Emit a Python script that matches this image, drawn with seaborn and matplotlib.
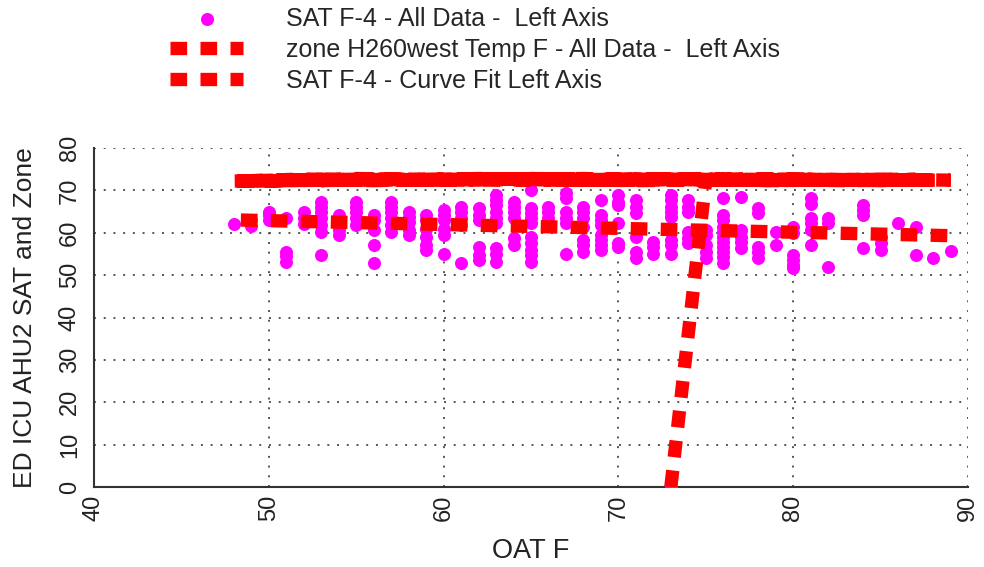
import matplotlib
matplotlib.use("Agg")
import matplotlib.pyplot as plt
from matplotlib.ticker import MultipleLocator
import numpy as np
import pandas as pd
import seaborn as sns

# ---- supply air temperature readings, grouped by outside air temperature ----
sat_columns = {
    48: [62.0],
    49: [61.5, 63.0],
    50: [65.0, 64.2, 63.0],
    51: [63.5, 55.5, 54.5, 53.0],
    52: [65.0, 63.4, 62.0],
    53: [67.3, 66.1, 65.0, 63.4, 61.8, 60.2, 54.7],
    54: [64.2, 63.0, 60.6, 59.5],
    55: [67.3, 66.1, 65.0, 63.4, 61.8],
    56: [64.2, 63.0, 60.6, 57.1, 52.8],
    57: [67.3, 66.1, 65.0, 63.4, 61.8, 60.2],
    58: [65.0, 63.8, 62.6, 60.6, 59.5],
    59: [64.2, 63.0, 61.0, 59.1, 57.1, 55.9],
    60: [65.4, 64.2, 63.0, 61.0, 59.5, 55.1],
    61: [66.1, 65.0, 63.4, 61.8, 52.8],
    62: [65.8, 64.2, 63.0, 56.7, 54.7, 53.5],
    63: [68.9, 67.7, 66.5, 65.0, 63.4, 62.2, 56.3, 55.1, 53.2],
    64: [67.3, 66.1, 65.0, 63.4, 58.7, 57.1],
    65: [70.1, 65.8, 64.6, 63.4, 62.2, 59.1, 57.5, 55.9, 54.7, 53.2],
    66: [66.1, 65.0, 63.4, 62.2],
    67: [69.3, 68.1, 65.0, 63.4, 62.2, 55.1],
    68: [66.1, 65.0, 63.4, 61.4, 58.3, 57.1, 55.5],
    69: [67.7, 64.2, 63.0, 61.8, 59.5, 58.3, 57.1, 55.9],
    70: [68.9, 67.3, 66.5, 62.2, 57.5, 56.7],
    71: [67.7, 66.1, 64.6, 59.1, 55.5, 54.0],
    72: [57.9, 56.7, 55.1],
    73: [68.9, 67.7, 66.1, 65.0, 63.8, 58.3, 57.1, 55.1, 0.0],
    74: [67.7, 66.1, 65.0, 60.2, 58.7, 57.5],
    75: [60.6, 59.5, 57.1, 55.5, 54.0],
    76: [68.1, 64.2, 63.0, 61.4, 60.2, 59.1, 57.9, 56.7, 55.5, 54.3, 52.8],
    77: [68.5, 60.6, 59.1, 57.9, 56.3],
    78: [65.8, 64.6, 56.7, 55.5, 54.0],
    79: [60.2, 57.1],
    80: [61.4, 59.9, 54.7, 53.5, 52.4, 51.6],
    81: [68.1, 66.9, 63.4, 62.2, 60.6, 57.1],
    82: [63.4, 62.2, 52.0],
    84: [66.5, 65.4, 64.2, 56.3],
    85: [59.1, 57.5, 55.9],
    86: [62.2],
    87: [61.4, 54.7],
    88: [54.0],
    89: [55.7],
}
sat_oat = [oat for oat, vals in sat_columns.items() for _ in vals]
sat_temp = [v for vals in sat_columns.values() for v in vals]

# ---- zone temperature, in logging order (first record is a dropout at 0) ----
zone_oat = [73, 75, 78, 82, 85, 87, 84, 80, 76, 71, 66, 62, 58, 55, 53, 57,
            61, 66, 70, 74, 79, 83, 86, 89, 86, 81, 77, 72, 68, 64, 60, 56,
            52, 50, 48, 51, 55, 59, 63, 67, 71, 75, 80, 84, 87, 85, 82, 78,
            74, 69, 65, 61, 57, 54, 50, 49, 53, 58, 62, 67, 72, 76, 81, 85,
            88, 84, 79, 75, 70, 65, 60, 56, 51, 48, 52, 56, 61, 65, 69, 73,
            77, 80, 83, 86, 83, 79, 74, 69, 64, 59, 54, 50]
zone_temp = [0.0, 72.4, 72.6, 72.5, 72.3, 72.6, 72.4, 72.7, 72.5, 72.3, 72.6, 72.8, 72.4, 72.6, 72.3, 72.7,
             72.5, 72.8, 72.4, 72.6, 72.5, 72.3, 72.4, 72.4, 72.6, 72.5, 72.7, 72.4, 72.8, 72.5, 72.6, 72.3,
             72.7, 72.4, 72.2, 72.3, 72.8, 72.5, 72.7, 72.4, 72.6, 72.8, 72.4, 72.6, 72.5, 72.3, 72.6, 72.4,
             72.7, 72.5, 72.8, 72.4, 72.6, 72.5, 72.2, 72.3, 72.6, 72.4, 72.8, 72.5, 72.7, 72.4, 72.6, 72.5,
             72.4, 72.6, 72.3, 72.5, 72.7, 72.4, 72.6, 72.5, 72.3, 72.2, 72.4, 72.7, 72.5, 72.8, 72.4, 72.6,
             72.5, 72.7, 72.4, 72.6, 72.5, 72.3, 72.6, 72.4, 72.7, 72.5, 72.6, 72.3]

# ---- linear curve fit of SAT vs OAT ----
fit_oat = [48.4, 89.1]
fit_temp = [63.0, 59.3]

x_ticks = [40, 50, 60, 70, 80, 90]
y_ticks = [0, 10, 20, 30, 40, 50, 60, 70, 80]

labels = ["SAT F-4 - All Data -  Left Axis",
          "zone H260west Temp F - All Data -  Left Axis",
          "SAT F-4 - Curve Fit Left Axis"]

sns.set_style("white")
plt.rcParams["font.family"] = ["Liberation Sans", "DejaVu Sans"]

W, H = 984, 567
fig = plt.figure(figsize=(W / 100, H / 100), dpi=100)
ax = fig.add_axes([94 / W, 1 - 487 / H, (968 - 94) / W, (487 - 148) / H])

magenta = "#FF00FF"
red = "#FF0000"
dash = (0, (1.25, 1.0))
lw = 9.6

sat_df = pd.DataFrame({"oat": sat_oat, "sat": sat_temp})
zone_df = pd.DataFrame({"oat": zone_oat, "zone": zone_temp})
fit_df = pd.DataFrame({"oat": fit_oat, "fit": fit_temp})

sns.scatterplot(data=sat_df, x="oat", y="sat", ax=ax, color=magenta, s=88,
                linewidth=0, marker="o", label=labels[0], zorder=3)
sns.lineplot(data=zone_df, x="oat", y="zone", ax=ax, color=red, lw=lw,
             linestyle=dash, sort=False, estimator=None, label=labels[1],
             zorder=4)
sns.lineplot(data=fit_df, x="oat", y="fit", ax=ax, color=red, lw=lw,
             linestyle=dash, sort=False, estimator=None, label=labels[2],
             zorder=5)
for ln in ax.get_lines():
    ln.set_dash_capstyle("butt")
    ln.set_solid_capstyle("butt")
    ln.set_dash_joinstyle("bevel")

handles, labs = ax.get_legend_handles_labels()
if ax.get_legend() is not None:
    ax.get_legend().remove()

ax.set_xlim(40, 90)
ax.set_ylim(0, 80)
ax.set_xticks(x_ticks)
ax.set_yticks(y_ticks)
ax.xaxis.set_minor_locator(MultipleLocator(5))
ax.yaxis.set_minor_locator(MultipleLocator(5))

axis_col = "#333333"
for side in ["top", "right"]:
    ax.spines[side].set_visible(False)
for side in ["left", "bottom"]:
    ax.spines[side].set_color(axis_col)
    ax.spines[side].set_linewidth(1.5)

ax.tick_params(which="both", direction="inout", length=7, width=1.3,
               color=axis_col, labelsize=17, labelcolor="#222222")
ax.tick_params(axis="x", which="major", pad=2)
ax.tick_params(axis="y", which="major", pad=6)
for t in ax.get_xticklabels():
    t.set_rotation(90)
for t in ax.get_yticklabels():
    t.set_rotation(90)
    t.set_va("center")

ax.grid(True, which="major", color="#555555", linestyle=(0, (1, 4)),
        linewidth=1.4, zorder=1)
ax.set_axisbelow(True)

ax.set_xlabel("OAT F", fontsize=19.5, color="#222222", labelpad=12)
ax.set_ylabel("ED ICU AHU2 SAT and Zone", fontsize=19, color="#222222",
              labelpad=16)

fig.legend(handles, labs, loc="upper left",
           bbox_to_anchor=(170 / W, 1 - 7 / H), frameon=False, fontsize=18,
           handlelength=2.92, handletextpad=1.7, labelspacing=0.27,
           borderpad=0, borderaxespad=0)

fig.savefig("out.png", dpi=100)
